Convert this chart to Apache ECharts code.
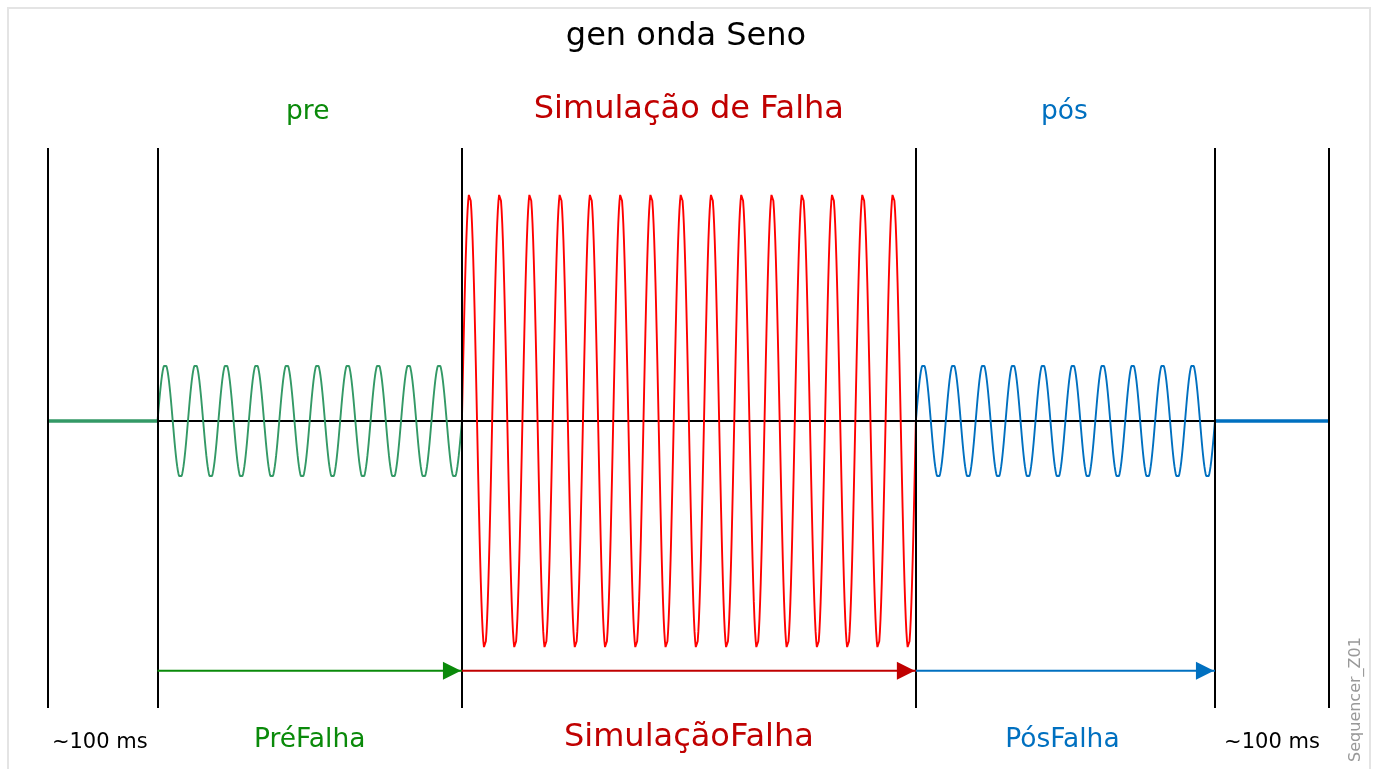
<!DOCTYPE html>
<html>
<head>
<meta charset="utf-8">
<title>gen onda Seno</title>
<script src="https://cdn.jsdelivr.net/npm/echarts@6/dist/echarts.min.js"></script>
<style>
  html, body { margin: 0; padding: 0; background: #ffffff; }
  #main { width: 1376px; height: 769px; }
</style>
</head>
<body>
<div id="main"></div>
<script>
// Sequence of the sine generator: idle, pre-fault, fault, post-fault, idle
const segmentMs = [72.5, 201.5, 300.5, 198, 75.5];
// Phases with a signal (pre, fault, post)
const phaseTitles = ['pre', 'Simulação de Falha', 'pós'];
const phaseNames = ['PréFalha', 'SimulaçãoFalha', 'PósFalha'];
const phaseCycles = [10, 15, 10];
const phaseAmplitudes = [1, 4, 1];
const idleLabels = ['~100 ms', '~100 ms'];
const chartTitle = 'gen onda Seno';
const figureTag = 'Sequencer_Z01';

const FONT = '"DejaVu Sans", Verdana, sans-serif';
const waveColors = ['#339966', '#ff0000', '#0070c0'];
const textColors = ['#0a8a0a', '#c00000', '#0070c0'];
const arrowColors = ['#0a8a0a', '#c00000', '#0070c0'];
const ARROW_LEVEL = -4.381;

// segment edges on the time axis
const edges = [0];
segmentMs.forEach(d => edges.push(edges[edges.length - 1] + d));

// sample one sine burst from its amplitude and cycle count
function sineBurst(t0, dur, cycles, amp) {
  const n = cycles * 48;
  const pts = [];
  for (let i = 0; i <= n; i++) {
    const t = t0 + dur * i / n;
    pts.push([t, amp * Math.sin(2 * Math.PI * cycles * i / n)]);
  }
  return pts;
}

const chart = echarts.init(document.getElementById('main'));

const series = [];

// reference zero line plus the phase boundaries
series.push({
  type: 'line',
  data: [[edges[1], 0], [edges[4], 0]],
  showSymbol: false,
  lineStyle: { color: '#000000', width: 2 },
  z: 2,
  markLine: {
    silent: true,
    symbol: 'none',
    label: { show: false },
    lineStyle: { color: '#000000', width: 2, type: 'solid' },
    data: edges.map(x => ({ xAxis: x }))
  }
});

// idle level before the sequence
series.push({
  type: 'line',
  data: [[edges[0], 0], [edges[1], 0]],
  showSymbol: false,
  lineStyle: { color: waveColors[0], width: 3.5 },
  z: 3
});

// the three sine bursts
for (let p = 0; p < 3; p++) {
  series.push({
    type: 'line',
    data: sineBurst(edges[p + 1], segmentMs[p + 1], phaseCycles[p], phaseAmplitudes[p]),
    showSymbol: false,
    lineStyle: { color: waveColors[p], width: 1.9 },
    z: 4
  });
}

// idle level after the sequence
series.push({
  type: 'line',
  data: [[edges[4], 0], [edges[5], 0]],
  showSymbol: false,
  lineStyle: { color: waveColors[2], width: 3.5 },
  z: 3
});

// duration arrows for each phase
for (let p = 0; p < 3; p++) {
  series.push({
    type: 'line',
    showSymbol: true,
    lineStyle: { color: arrowColors[p], width: 2 },
    itemStyle: { color: arrowColors[p] },
    z: 5,
    data: [
      { value: [edges[p + 1], ARROW_LEVEL], symbol: 'none' },
      {
        value: [edges[p + 2], ARROW_LEVEL],
        symbol: 'path://M0,0L18,9L0,18Z',
        symbolSize: [18, 18],
        symbolOffset: [-10, 0]
      }
    ]
  });
}

chart.setOption({
  animation: false,
  backgroundColor: '#ffffff',
  grid: { left: 48, right: 47, top: 148, bottom: 61 },
  xAxis: {
    type: 'value', min: edges[0], max: edges[edges.length - 1],
    show: false
  },
  yAxis: {
    type: 'value', min: -5.035, max: 4.789,
    show: false
  },
  series: series
});

// texts centred over their phases
function px(x) { return chart.convertToPixel({ gridIndex: 0 }, [x, 0])[0]; }
function mid(i) { return px((edges[i] + edges[i + 1]) / 2); }

function txt(text, x, y, size, color, extra) {
  return Object.assign({
    type: 'text', x: x, y: y, silent: true,
    style: {
      text: text, fill: color, font: size + 'px ' + FONT,
      align: 'center', verticalAlign: 'middle'
    }
  }, extra || {});
}

const graphics = [
  {
    type: 'rect', silent: true, z: -1,
    shape: { x: 8, y: 8, width: 1362, height: 790 },
    style: { fill: 'none', stroke: '#e4e4e4', lineWidth: 2 }
  },
  txt(chartTitle, 686, 36.5, 32, '#000000'),
  txt(phaseTitles[0], mid(1) - 2, 112, 26.5, textColors[0]),
  txt(phaseTitles[1], mid(2), 109.5, 32, textColors[1]),
  txt(phaseTitles[2], mid(3) - 1, 112, 26.5, textColors[2]),
  txt(idleLabels[0], mid(0) - 3, 742.5, 21, '#000000'),
  txt(phaseNames[0], mid(1), 740.5, 26.5, textColors[0]),
  txt(phaseNames[1], mid(2), 738, 32, textColors[1]),
  txt(phaseNames[2], mid(3) - 3, 740.5, 26.5, textColors[2]),
  txt(idleLabels[1], mid(4), 742.5, 21, '#000000'),
  txt(figureTag, 1356, 699.5, 16, '#999999', { rotation: Math.PI / 2 })
];

chart.setOption({ graphic: graphics });
</script>
</body>
</html>
